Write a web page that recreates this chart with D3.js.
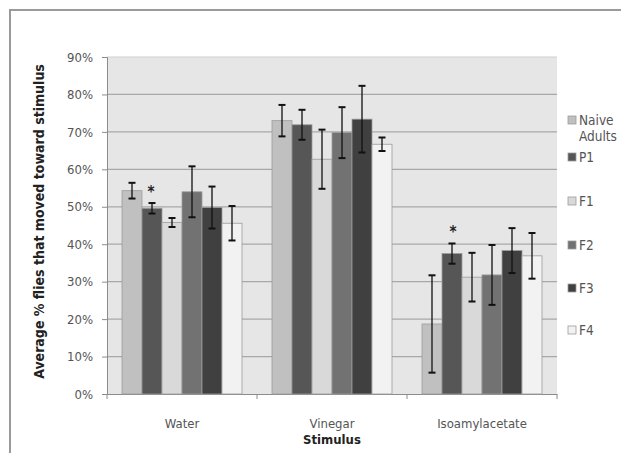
<!DOCTYPE html>
<html><head><meta charset="utf-8">
<script src="https://cdn.jsdelivr.net/npm/d3@7"></script>
<style>
body{margin:0;background:#fff;}
svg text{font-family:"Liberation Sans Narrow","DejaVu Sans Condensed","Open Sans",sans-serif;}
</style></head>
<body><svg id="c" width="621" height="453"></svg>
<script>
const categories = ["Water", "Vinegar", "Isoamylacetate"];
const seriesNames = ["Naive Adults", "P1", "F1", "F2", "F3", "F4"];
const naive = [54.3, 73.0, 18.7];
const p1    = [49.6, 71.9, 37.5];
const f1    = [45.8, 62.7, 31.2];
const f2    = [54.0, 69.8, 31.8];
const f3    = [49.8, 73.4, 38.3];
const f4    = [45.6, 66.7, 36.9];
const naiveErr = [2.1, 4.2, 13.0];
const p1Err    = [1.4, 4.0, 2.7];
const f1Err    = [1.2, 7.9, 6.5];
const f2Err    = [6.8, 6.8, 8.0];
const f3Err    = [5.6, 8.9, 6.0];
const f4Err    = [4.6, 1.8, 6.1];
const significant = [["Water","P1"],["Isoamylacetate","P1"]];
const yTicks = [0,10,20,30,40,50,60,70,80,90];

const values = [naive,p1,f1,f2,f3,f4];
const errs = [naiveErr,p1Err,f1Err,f2Err,f3Err,f4Err];
const colors = ["#c0c0c0","#565656","#d9d9d9","#727272","#404040","#f2f2f2"];

const svg = d3.select("#c");
const L=107, R=557, T=57, B=394;

// frame
svg.append("path").attr("d","M10,460 L10,10 L640,10").attr("fill","none")
  .attr("stroke","#9a9a9a").attr("stroke-width",2);

const x0 = d3.scaleBand().domain(categories).range([L,R]).paddingInner(0.2).paddingOuter(0.1);
const x1 = d3.scaleBand().domain(seriesNames).range([0,x0.bandwidth()]);
const xc = d3.scaleBand().domain(categories).range([L,R]);
const y = d3.scaleLinear().domain([0,90]).range([B,T]);

svg.append("rect").attr("x",L).attr("y",T).attr("width",R-L).attr("height",B-T).attr("fill","#e6e6e6");

// grid
svg.append("g").selectAll("line").data(yTicks.filter(d=>d>0)).join("line")
  .attr("x1",L).attr("x2",R).attr("y1",d=>y(d)).attr("y2",d=>y(d))
  .attr("stroke",d=>d===90?"#cfcfcf":"#a8a8a8").attr("stroke-width",1.2);

// y axis
const ya = svg.append("g").attr("transform",`translate(${L},0)`)
  .call(d3.axisLeft(y).tickValues(yTicks).tickFormat(d=>d+"%").tickSize(5).tickPadding(9));
ya.select(".domain").attr("stroke","#8c8c8c");
ya.selectAll(".tick line").attr("stroke","#8c8c8c");
ya.selectAll("text").attr("fill","#555").attr("font-size",13);

// x axis
const xa = svg.append("g").attr("transform",`translate(0,${B})`)
  .call(d3.axisBottom(xc).tickSize(0).tickPadding(25));
xa.select(".domain").attr("stroke","#8c8c8c");
xa.selectAll("text").attr("fill","#555").attr("font-size",13);
svg.append("g").selectAll("line").data([L,...categories.map(c=>xc(c)+xc.bandwidth())]).join("line")
  .attr("x1",d=>d).attr("x2",d=>d).attr("y1",B).attr("y2",B+5).attr("stroke","#8c8c8c");

// bars
const groups = svg.append("g").selectAll("g").data(seriesNames).join("g");
groups.each(function(s,si){
  const g=d3.select(this);
  g.selectAll("rect").data(categories).join("rect")
    .attr("x",c=>x0(c)+x1(s)).attr("width",x1.bandwidth())
    .attr("y",(c,ci)=>y(values[si][ci])).attr("height",(c,ci)=>B-y(values[si][ci]))
    .attr("fill",colors[si]).attr("stroke","#9c9c9c").attr("stroke-width",0.8);
});
// error bars
groups.each(function(s,si){
  const g=d3.select(this);
  categories.forEach((c,ci)=>{
    const cx=x0(c)+x1(s)+x1.bandwidth()/2;
    const v=values[si][ci], e=errs[si][ci];
    g.append("line").attr("x1",cx).attr("x2",cx).attr("y1",y(v+e)).attr("y2",y(v-e)).attr("stroke","#111").attr("stroke-width",1.3);
    [v+e,v-e].forEach(t=>g.append("line").attr("x1",cx-3.5).attr("x2",cx+3.5).attr("y1",y(t)).attr("y2",y(t)).attr("stroke","#111").attr("stroke-width",2));
  });
});
// significance
significant.forEach(([c,s])=>{
  const si=seriesNames.indexOf(s), ci=categories.indexOf(c);
  const cx=x0(c)+x1(s)+x1.bandwidth()/2+ (c==="Water"?-1:1);
  svg.append("text").attr("x",cx).attr("y",y(values[si][ci]+errs[si][ci])-6)
    .attr("text-anchor","middle").attr("font-size",15).attr("font-weight","bold").attr("fill","#222").text("*");
});

// axis titles
svg.append("text").attr("transform",`translate(44,${(T+B)/2 - 4}) rotate(-90)`).attr("text-anchor","middle")
  .attr("font-size",14).attr("font-weight","bold").attr("fill","#222")
  .style("font-family","'DejaVu Sans Condensed',sans-serif")
  .text("Average % flies that moved toward stimulus");
svg.append("text").attr("x",332).attr("y",444).attr("text-anchor","middle")
  .attr("font-size",13).attr("font-weight","bold").attr("fill","#222").text("Stimulus");

// legend
const legY=[120,157,201,245,288,330];
const leg = svg.append("g");
seriesNames.forEach((s,i)=>{
  leg.append("rect").attr("x",568).attr("y",legY[i]-4).attr("width",8).attr("height",8)
    .attr("fill",colors[i]).attr("stroke","#9c9c9c").attr("stroke-width",0.8);
  const parts = s==="Naive Adults"?["Naive","Adults"]:[s];
  parts.forEach((p,j)=>leg.append("text").attr("x",579).attr("y",legY[i]+5+j*16)
    .attr("font-size",13.5).attr("fill","#555").text(p));
});
</script></body></html>
